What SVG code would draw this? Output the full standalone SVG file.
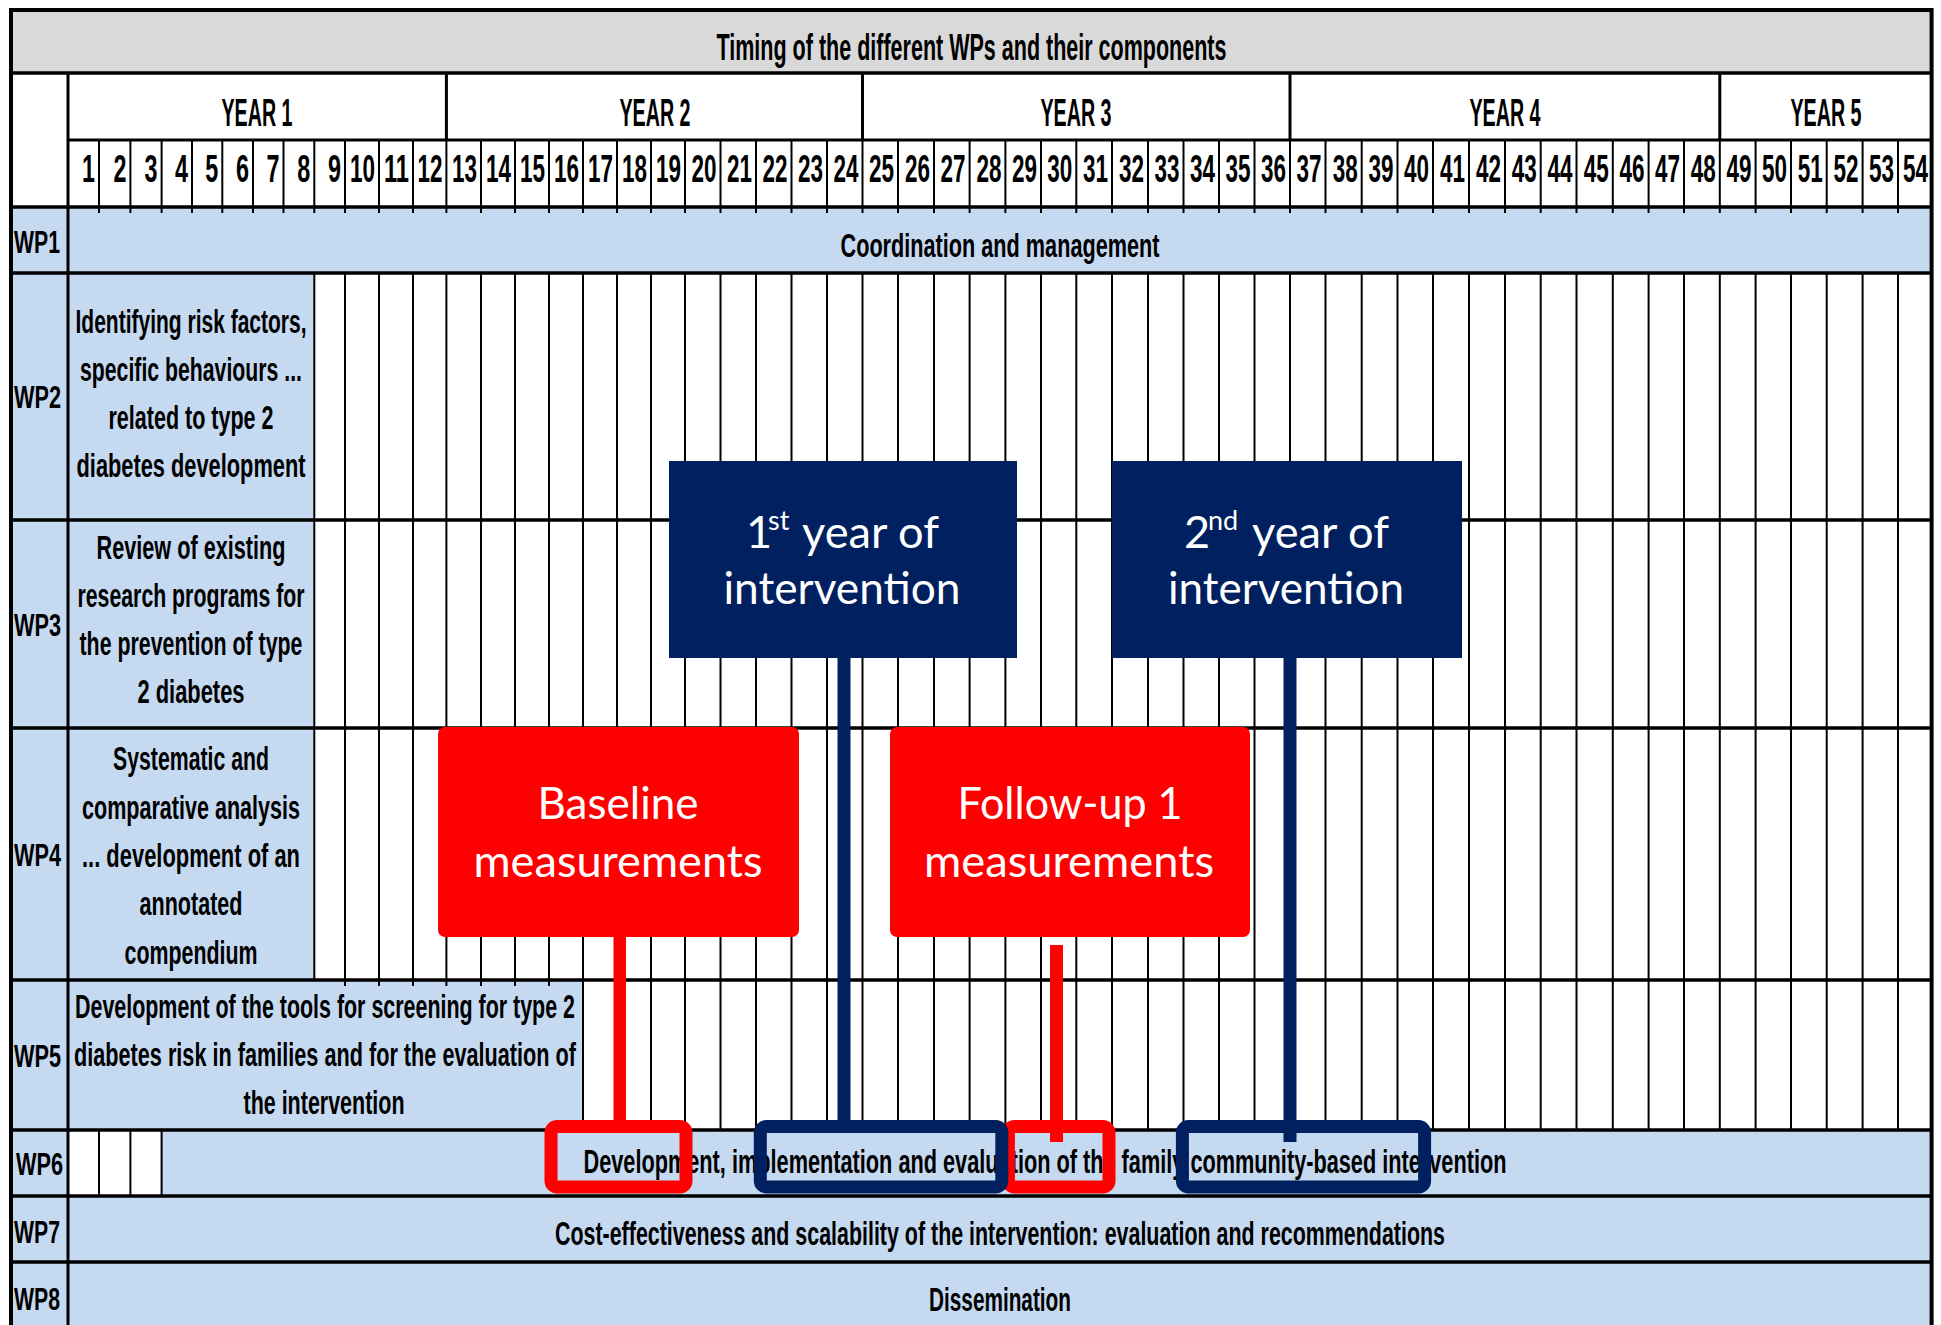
<svg xmlns="http://www.w3.org/2000/svg" width="1941" height="1325" viewBox="0 0 1941 1325">
<style>
.t{font-family:"Liberation Sans",Arial,sans-serif;font-weight:bold;fill:#000}
.c{text-anchor:middle}
.m{text-anchor:end;font-size:39px}
.lb{fill:#c5d9f1}
.w{font-family:Lato,"Open Sans",sans-serif;fill:#fff;font-size:45px}
.thin{stroke:#000;stroke-width:2;fill:none}
.thick{stroke:#000;stroke-width:3.5;fill:none}
.navy{fill:#002060}
.red{fill:#ff0000}
.obn{fill:none;stroke:#002060;stroke-width:13}
.obr{fill:none;stroke:#ff0000;stroke-width:13}
</style>
<rect x="0" y="0" width="1941" height="1325" fill="#fff"/>
<g id="table">
<rect x="11" y="10" width="1920.6" height="63" fill="#d9d9d9"/>
<rect class="lb" x="11" y="207" width="57" height="1118"/>
<rect class="lb" x="68" y="207" width="1863.6" height="66"/>
<rect class="lb" x="68" y="273" width="246.3" height="707"/>
<rect class="lb" x="68" y="980" width="515" height="150"/>
<rect class="lb" x="161.6" y="1130" width="1770" height="66"/>
<rect class="lb" x="68" y="1196" width="1863.6" height="129"/>
<path class="thin" d="M99 140V207M130.4 140V207M161.6 140V207M192 140V207M222.3 140V207M253 140V207M283.5 140V207
M314.3 140V207M314.3 273V980M345 140V207M345 273V980M379 140V207M379 273V980M413 140V207M413 273V980M446.4 140V207M446.4 273V980M481 140V207M481 273V980M515 140V207M515 273V980M549 140V207M549 273V980
M583 140V207M583 273V1130M617 140V207M617 273V1130M651 140V207M651 273V1130M685 140V207M685 273V1130M720.5 140V207M720.5 273V1130M756 140V207M756 273V1130M791.5 140V207M791.5 273V1130M827 140V207M827 273V1130M862.5 140V207M862.5 273V1130M898 140V207M898 273V1130M934 140V207M934 273V1130M969.6 140V207M969.6 273V1130M1005.4 140V207M1005.4 273V1130M1041 140V207M1041 273V1130M1076.3 140V207M1076.3 273V1130M1112 140V207M1112 273V1130M1148 140V207M1148 273V1130M1183.5 140V207M1183.5 273V1130M1219 140V207M1219 273V1130M1254.5 140V207M1254.5 273V1130M1290 140V207M1290 273V1130M1325.5 140V207M1325.5 273V1130M1361.7 140V207M1361.7 273V1130M1397.5 140V207M1397.5 273V1130M1433 140V207M1433 273V1130M1469 140V207M1469 273V1130M1505 140V207M1505 273V1130M1540.7 140V207M1540.7 273V1130M1576.5 140V207M1576.5 273V1130M1612.8 140V207M1612.8 273V1130M1648.6 140V207M1648.6 273V1130M1684 140V207M1684 273V1130M1719.8 140V207M1719.8 273V1130M1755.6 140V207M1755.6 273V1130M1791 140V207M1791 273V1130M1826.7 140V207M1826.7 273V1130M1862.6 140V207M1862.6 273V1130M1898 140V207M1898 273V1130
M99 1130V1196M130.4 1130V1196M161.6 1130V1196"/>
<path class="thin" d="M99 207V213M130.4 207V213M161.6 207V213M192 207V213M222.3 207V213M253 207V213M283.5 207V213M314.3 207V213M345 207V213M379 207V213M413 207V213M446.4 207V213M481 207V213M515 207V213M549 207V213M583 207V213M617 207V213M651 207V213M685 207V213M720.5 207V213M756 207V213M791.5 207V213M827 207V213M862.5 207V213M898 207V213M934 207V213M969.6 207V213M1005.4 207V213M1041 207V213M1076.3 207V213M1112 207V213M1148 207V213M1183.5 207V213M1219 207V213M1254.5 207V213M1290 207V213M1325.5 207V213M1361.7 207V213M1397.5 207V213M1433 207V213M1469 207V213M1505 207V213M1540.7 207V213M1576.5 207V213M1612.8 207V213M1648.6 207V213M1684 207V213M1719.8 207V213M1755.6 207V213M1791 207V213M1826.7 207V213M1862.6 207V213M1898 207V213
M345 980V986M379 980V986M413 980V986M446.4 980V986M481 980V986M515 980V986M549 980V986"/>
<path stroke="#000" stroke-width="3" fill="none" d="M68 140H1931.6M446.4 73V140M862.5 73V140M1290 73V140M1719.8 73V140M68 73V1325"/>
<path class="thick" d="M11 73H1931.6M11 207H1931.6M11 273H1931.6M11 520H1931.6M11 728H1931.6M11 980H1931.6M11 1130H1931.6M11 1196H1931.6M11 1262H1931.6"/>
<path stroke="#000" stroke-width="4" fill="none" d="M9 10H1933.6M11 8V1325M1931.6 8V1325"/>
</g>
<g id="header">
<text class="t c" x="971.5" y="60" font-size="36" textLength="510" lengthAdjust="spacingAndGlyphs">Timing of the different WPs and their components</text>
<text class="t c" x="257" y="126" font-size="38" textLength="71" lengthAdjust="spacingAndGlyphs">YEAR 1</text>
<text class="t c" x="655" y="126" font-size="38" textLength="71" lengthAdjust="spacingAndGlyphs">YEAR 2</text>
<text class="t c" x="1076" y="126" font-size="38" textLength="71" lengthAdjust="spacingAndGlyphs">YEAR 3</text>
<text class="t c" x="1505" y="126" font-size="38" textLength="71" lengthAdjust="spacingAndGlyphs">YEAR 4</text>
<text class="t c" x="1826" y="126" font-size="38" textLength="71" lengthAdjust="spacingAndGlyphs">YEAR 5</text>
</g>
<g id="months">
<text class="t m" x="95" y="182" textLength="13" lengthAdjust="spacingAndGlyphs">1</text>
<text class="t m" x="126.4" y="182" textLength="13" lengthAdjust="spacingAndGlyphs">2</text>
<text class="t m" x="157.6" y="182" textLength="13" lengthAdjust="spacingAndGlyphs">3</text>
<text class="t m" x="188" y="182" textLength="13" lengthAdjust="spacingAndGlyphs">4</text>
<text class="t m" x="218.3" y="182" textLength="13" lengthAdjust="spacingAndGlyphs">5</text>
<text class="t m" x="249" y="182" textLength="13" lengthAdjust="spacingAndGlyphs">6</text>
<text class="t m" x="279.5" y="182" textLength="13" lengthAdjust="spacingAndGlyphs">7</text>
<text class="t m" x="310.3" y="182" textLength="13" lengthAdjust="spacingAndGlyphs">8</text>
<text class="t m" x="341" y="182" textLength="13" lengthAdjust="spacingAndGlyphs">9</text>
<text class="t m" x="375" y="182" textLength="25" lengthAdjust="spacingAndGlyphs">10</text>
<text class="t m" x="409" y="182" textLength="25" lengthAdjust="spacingAndGlyphs">11</text>
<text class="t m" x="442.4" y="182" textLength="25" lengthAdjust="spacingAndGlyphs">12</text>
<text class="t m" x="477" y="182" textLength="25" lengthAdjust="spacingAndGlyphs">13</text>
<text class="t m" x="511" y="182" textLength="25" lengthAdjust="spacingAndGlyphs">14</text>
<text class="t m" x="545" y="182" textLength="25" lengthAdjust="spacingAndGlyphs">15</text>
<text class="t m" x="579" y="182" textLength="25" lengthAdjust="spacingAndGlyphs">16</text>
<text class="t m" x="613" y="182" textLength="25" lengthAdjust="spacingAndGlyphs">17</text>
<text class="t m" x="647" y="182" textLength="25" lengthAdjust="spacingAndGlyphs">18</text>
<text class="t m" x="681" y="182" textLength="25" lengthAdjust="spacingAndGlyphs">19</text>
<text class="t m" x="716.5" y="182" textLength="25" lengthAdjust="spacingAndGlyphs">20</text>
<text class="t m" x="752" y="182" textLength="25" lengthAdjust="spacingAndGlyphs">21</text>
<text class="t m" x="787.5" y="182" textLength="25" lengthAdjust="spacingAndGlyphs">22</text>
<text class="t m" x="823" y="182" textLength="25" lengthAdjust="spacingAndGlyphs">23</text>
<text class="t m" x="858.5" y="182" textLength="25" lengthAdjust="spacingAndGlyphs">24</text>
<text class="t m" x="894" y="182" textLength="25" lengthAdjust="spacingAndGlyphs">25</text>
<text class="t m" x="930" y="182" textLength="25" lengthAdjust="spacingAndGlyphs">26</text>
<text class="t m" x="965.6" y="182" textLength="25" lengthAdjust="spacingAndGlyphs">27</text>
<text class="t m" x="1001.4" y="182" textLength="25" lengthAdjust="spacingAndGlyphs">28</text>
<text class="t m" x="1037" y="182" textLength="25" lengthAdjust="spacingAndGlyphs">29</text>
<text class="t m" x="1072.3" y="182" textLength="25" lengthAdjust="spacingAndGlyphs">30</text>
<text class="t m" x="1108" y="182" textLength="25" lengthAdjust="spacingAndGlyphs">31</text>
<text class="t m" x="1144" y="182" textLength="25" lengthAdjust="spacingAndGlyphs">32</text>
<text class="t m" x="1179.5" y="182" textLength="25" lengthAdjust="spacingAndGlyphs">33</text>
<text class="t m" x="1215" y="182" textLength="25" lengthAdjust="spacingAndGlyphs">34</text>
<text class="t m" x="1250.5" y="182" textLength="25" lengthAdjust="spacingAndGlyphs">35</text>
<text class="t m" x="1286" y="182" textLength="25" lengthAdjust="spacingAndGlyphs">36</text>
<text class="t m" x="1321.5" y="182" textLength="25" lengthAdjust="spacingAndGlyphs">37</text>
<text class="t m" x="1357.7" y="182" textLength="25" lengthAdjust="spacingAndGlyphs">38</text>
<text class="t m" x="1393.5" y="182" textLength="25" lengthAdjust="spacingAndGlyphs">39</text>
<text class="t m" x="1429" y="182" textLength="25" lengthAdjust="spacingAndGlyphs">40</text>
<text class="t m" x="1465" y="182" textLength="25" lengthAdjust="spacingAndGlyphs">41</text>
<text class="t m" x="1501" y="182" textLength="25" lengthAdjust="spacingAndGlyphs">42</text>
<text class="t m" x="1536.7" y="182" textLength="25" lengthAdjust="spacingAndGlyphs">43</text>
<text class="t m" x="1572.5" y="182" textLength="25" lengthAdjust="spacingAndGlyphs">44</text>
<text class="t m" x="1608.8" y="182" textLength="25" lengthAdjust="spacingAndGlyphs">45</text>
<text class="t m" x="1644.6" y="182" textLength="25" lengthAdjust="spacingAndGlyphs">46</text>
<text class="t m" x="1680" y="182" textLength="25" lengthAdjust="spacingAndGlyphs">47</text>
<text class="t m" x="1715.8" y="182" textLength="25" lengthAdjust="spacingAndGlyphs">48</text>
<text class="t m" x="1751.6" y="182" textLength="25" lengthAdjust="spacingAndGlyphs">49</text>
<text class="t m" x="1787" y="182" textLength="25" lengthAdjust="spacingAndGlyphs">50</text>
<text class="t m" x="1822.7" y="182" textLength="25" lengthAdjust="spacingAndGlyphs">51</text>
<text class="t m" x="1858.6" y="182" textLength="25" lengthAdjust="spacingAndGlyphs">52</text>
<text class="t m" x="1894" y="182" textLength="25" lengthAdjust="spacingAndGlyphs">53</text>
<text class="t m" x="1928" y="182" textLength="25" lengthAdjust="spacingAndGlyphs">54</text>
</g>
<g id="wp1">
<text class="t" x="14" y="253" font-size="32" textLength="46" lengthAdjust="spacingAndGlyphs">WP1</text>
<text class="t c" x="1000" y="257" font-size="33" textLength="319" lengthAdjust="spacingAndGlyphs">Coordination and management</text>
</g>
<g id="wp2">
<text class="t" x="14" y="408" font-size="32" textLength="47" lengthAdjust="spacingAndGlyphs">WP2</text>
<text class="t c" x="191" y="333" font-size="33" textLength="231" lengthAdjust="spacingAndGlyphs">Identifying risk factors,</text>
<text class="t c" x="191" y="381" font-size="33" textLength="222" lengthAdjust="spacingAndGlyphs">specific behaviours ...</text>
<text class="t c" x="191" y="429" font-size="33" textLength="165" lengthAdjust="spacingAndGlyphs">related to type 2</text>
<text class="t c" x="191" y="477" font-size="33" textLength="229" lengthAdjust="spacingAndGlyphs">diabetes development</text>
</g>
<g id="wp3">
<text class="t" x="14" y="636" font-size="32" textLength="47" lengthAdjust="spacingAndGlyphs">WP3</text>
<text class="t c" x="191" y="559" font-size="33" textLength="189" lengthAdjust="spacingAndGlyphs">Review of existing</text>
<text class="t c" x="191" y="607" font-size="33" textLength="227" lengthAdjust="spacingAndGlyphs">research programs for</text>
<text class="t c" x="191" y="655" font-size="33" textLength="223" lengthAdjust="spacingAndGlyphs">the prevention of type</text>
<text class="t c" x="191" y="703" font-size="33" textLength="107" lengthAdjust="spacingAndGlyphs">2 diabetes</text>
</g>
<g id="wp4">
<text class="t" x="14" y="866" font-size="32" textLength="47" lengthAdjust="spacingAndGlyphs">WP4</text>
<text class="t c" x="191" y="770" font-size="33" textLength="156" lengthAdjust="spacingAndGlyphs">Systematic and</text>
<text class="t c" x="191" y="819" font-size="33" textLength="218" lengthAdjust="spacingAndGlyphs">comparative analysis</text>
<text class="t c" x="191" y="867" font-size="33" textLength="218" lengthAdjust="spacingAndGlyphs">... development of an</text>
<text class="t c" x="191" y="915" font-size="33" textLength="103" lengthAdjust="spacingAndGlyphs">annotated</text>
<text class="t c" x="191" y="964" font-size="33" textLength="133" lengthAdjust="spacingAndGlyphs">compendium</text>
</g>
<g id="wp5">
<text class="t" x="14" y="1067" font-size="32" textLength="47" lengthAdjust="spacingAndGlyphs">WP5</text>
<text class="t c" x="325" y="1018" font-size="33" textLength="500" lengthAdjust="spacingAndGlyphs">Development of the tools for screening for type 2</text>
<text class="t c" x="325" y="1066" font-size="33" textLength="502" lengthAdjust="spacingAndGlyphs">diabetes risk in families and for the evaluation of</text>
<text class="t c" x="324" y="1114" font-size="33" textLength="161" lengthAdjust="spacingAndGlyphs">the intervention</text>
</g>
<g id="wp6">
<text class="t" x="16" y="1175" font-size="32" textLength="47" lengthAdjust="spacingAndGlyphs">WP6</text>
<text class="t c" x="1045" y="1173" font-size="33" textLength="923" lengthAdjust="spacingAndGlyphs">Development, implementation and evaluation of the family community-based intervention</text>
</g>
<g id="wp7">
<text class="t" x="14" y="1243" font-size="32" textLength="46" lengthAdjust="spacingAndGlyphs">WP7</text>
<text class="t c" x="1000" y="1245" font-size="33" textLength="890" lengthAdjust="spacingAndGlyphs">Cost-effectiveness and scalability of the intervention: evaluation and recommendations</text>
</g>
<g id="wp8">
<text class="t" x="14" y="1310" font-size="32" textLength="46" lengthAdjust="spacingAndGlyphs">WP8</text>
<text class="t c" x="1000" y="1311" font-size="33" textLength="142" lengthAdjust="spacingAndGlyphs">Dissemination</text>
</g>
<g id="year1-intervention">
<rect class="navy" x="669" y="461" width="348" height="197"/>
<text class="w" x="746" y="548"><tspan>1</tspan><tspan x="768" dy="-18" font-size="27">st</tspan><tspan x="802" dy="18" textLength="137" lengthAdjust="spacingAndGlyphs">year of</tspan></text>
<text class="w c" x="842" y="604" textLength="237" lengthAdjust="spacingAndGlyphs">intervention</text>
</g>
<g id="year2-intervention">
<rect class="navy" x="1112" y="461" width="350" height="197"/>
<text class="w" x="1184" y="548"><tspan>2</tspan><tspan x="1208" dy="-18" font-size="27">nd</tspan><tspan x="1252" dy="18" textLength="137" lengthAdjust="spacingAndGlyphs">year of</tspan></text>
<text class="w c" x="1286" y="604" textLength="236" lengthAdjust="spacingAndGlyphs">intervention</text>
</g>
<g id="baseline">
<rect class="red" x="438" y="727" width="361" height="210" rx="7"/>
<text class="w c" x="618" y="819" textLength="161" lengthAdjust="spacingAndGlyphs">Baseline</text>
<text class="w c" x="618" y="877" textLength="289" lengthAdjust="spacingAndGlyphs">measurements</text>
</g>
<g id="followup1">
<rect class="red" x="890" y="727" width="360" height="210" rx="7"/>
<text class="w c" x="1070" y="819" textLength="225" lengthAdjust="spacingAndGlyphs">Follow-up 1</text>
<text class="w c" x="1069" y="877" textLength="290" lengthAdjust="spacingAndGlyphs">measurements</text>
</g>
<g id="connectors">
<rect class="red" x="613.5" y="937" width="12.5" height="184"/>
<rect class="navy" x="837.5" y="658" width="13" height="463"/>
<rect class="red" x="1050" y="945" width="13" height="197"/>
<rect class="navy" x="1283.5" y="658" width="13" height="484"/>
</g>
<g id="mark-baseline"><rect class="obr" x="551" y="1126.5" width="135" height="60.5" rx="6"/></g>
<g id="mark-followup"><rect class="obr" x="1008.4" y="1126.5" width="100.6" height="60.5" rx="6"/></g>
<g id="mark-year1"><rect class="obn" x="760.3" y="1126.5" width="241.5" height="60.5" rx="6"/></g>
<g id="mark-year2"><rect class="obn" x="1182.4" y="1126.5" width="242.2" height="60.5" rx="6"/></g>
</svg>
